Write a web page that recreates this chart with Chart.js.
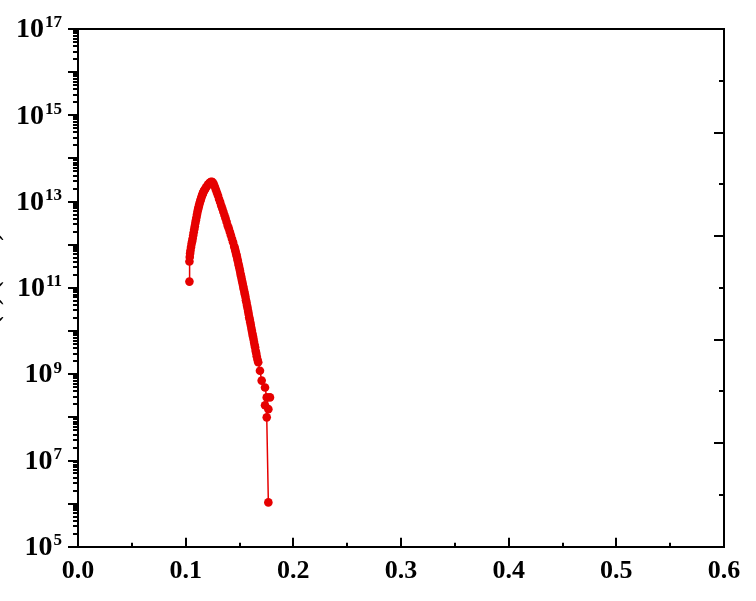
<!DOCTYPE html>
<html>
<head>
<meta charset="utf-8">
<script src="https://cdn.jsdelivr.net/npm/chart.js@4.4.1/dist/chart.umd.min.js"></script>
<style>
  html, body { margin: 0; padding: 0; background: #fff; }
  #wrap { width: 756px; height: 601px; position: relative; }
</style>
</head>
<body>
<div id="wrap"><canvas id="chart" width="756" height="601"></canvas></div>
<script>
// Data
const xValues = [
  0.1035, 0.1035, 0.1038, 0.1041, 0.1045, 0.1050, 0.1055, 0.1060, 0.1065, 0.1070,
  0.1075, 0.1080, 0.1085, 0.1090, 0.1095, 0.1100, 0.1105, 0.1110, 0.1115, 0.1120,
  0.1125, 0.1130, 0.1135, 0.1140, 0.1145, 0.1150, 0.1155, 0.1160, 0.1165, 0.1170,
  0.1175, 0.1180, 0.1190, 0.1200, 0.1210, 0.1220, 0.1230, 0.1240,
  0.1250, 0.1260, 0.1270, 0.1280, 0.1290, 0.1300, 0.1310, 0.1320, 0.1330, 0.1340,
  0.1350, 0.1360, 0.1370, 0.1380, 0.1390, 0.1400, 0.1410, 0.1420, 0.1430, 0.1440,
  0.1450, 0.1455, 0.1460, 0.1465, 0.1470, 0.1475, 0.1480, 0.1485, 0.1490, 0.1495,
  0.1500, 0.1505, 0.1510, 0.1515, 0.1520, 0.1525, 0.1530, 0.1535, 0.1540, 0.1545,
  0.1550, 0.1555, 0.1560, 0.1565, 0.1570, 0.1575, 0.1580, 0.1585, 0.1590, 0.1595,
  0.1600, 0.1605, 0.1610, 0.1615, 0.1620, 0.1625, 0.1630, 0.1635, 0.1640, 0.1645,
  0.1650, 0.1655, 0.1660, 0.1667, 0.1674, 0.1690, 0.1706, 0.1737, 0.1753, 0.1783,
  0.1737, 0.1768, 0.1753, 0.1768
];
const yValues = [
  1.4e11, 4.1e11, 5.2e11, 6.3e11, 7.4e11, 8.9e11, 1.05e12, 1.2e12, 1.4e12, 1.66e12,
  1.95e12, 2.3e12, 2.7e12, 3.2e12, 3.7e12, 4.3e12, 5.0e12, 5.8e12, 6.6e12, 7.4e12,
  8.3e12, 9.3e12, 1.02e13, 1.12e13, 1.23e13, 1.35e13, 1.45e13, 1.55e13, 1.66e13, 1.78e13,
  1.86e13, 1.95e13, 2.14e13, 2.34e13, 2.51e13, 2.69e13, 2.82e13, 2.88e13,
  2.82e13, 2.57e13, 2.24e13, 1.91e13, 1.62e13, 1.38e13, 1.15e13, 9.8e12, 8.1e12, 6.9e12,
  5.8e12, 4.9e12, 4.1e12, 3.4e12, 2.8e12, 2.4e12, 2.0e12, 1.66e12, 1.38e12, 1.15e12,
  9.3e11, 8.5e11, 7.6e11, 6.8e11, 6.0e11, 5.4e11, 4.7e11, 4.2e11, 3.6e11, 3.2e11,
  2.8e11, 2.45e11, 2.1e11, 1.86e11, 1.6e11, 1.41e11, 1.23e11, 1.07e11, 9.3e10, 8.1e10,
  7.1e10, 6.2e10, 5.2e10, 4.6e10, 3.9e10, 3.4e10, 2.9e10, 2.5e10, 2.1e10, 1.86e10,
  1.6e10, 1.38e10, 1.17e10, 1.02e10, 8.7e9, 7.6e9, 6.5e9, 5.6e9, 4.8e9, 4.2e9,
  3.5e9, 3.1e9, 2.6e9, 2.2e9, 1.9e9, 1.2e9, 7.1e8, 4.9e8, 2.9e8, 2.9e8,
  1.9e8, 1.55e8, 1.0e8, 1.07e6
];
const xTicks = [0.0, 0.1, 0.2, 0.3, 0.4, 0.5, 0.6];
const yLabelExps = [5, 7, 9, 11, 13, 15, 17];
const yTitle = 'N(ε) (a.u.)';

const RED = 'rgb(230, 0, 0)';
const SERIF = '"Liberation Serif", "Times New Roman", serif';

// ticks, tick labels with superscripts and frame drawn from the scales
const axisDecor = {
  id: 'axisDecor',
  afterDraw(chart) {
    const ctx = chart.ctx;
    const area = chart.chartArea;
    const x = chart.scales.x;
    const y = chart.scales.y;
    const y2 = chart.scales.y2;
    ctx.save();
    ctx.strokeStyle = '#000';
    ctx.lineWidth = 2;

    // top and right frame
    ctx.beginPath();
    ctx.moveTo(area.left - 1, area.top);
    ctx.lineTo(area.right, area.top);
    ctx.lineTo(area.right, area.bottom + 1);
    ctx.stroke();

    // left log ticks (outward)
    for (let e = 5; e <= 17; e++) {
      for (let m = 1; m <= 9; m++) {
        const v = m * Math.pow(10, e);
        if (v > 1e17) break;
        const py = Math.round(y.getPixelForValue(v));
        const len = m === 1 ? 10 : 5;
        ctx.beginPath();
        ctx.moveTo(area.left - len, py);
        ctx.lineTo(area.left, py);
        ctx.stroke();
      }
    }

    // bottom ticks (inward)
    for (let i = 0; i <= 12; i++) {
      const v = i * 0.05;
      const px = Math.round(x.getPixelForValue(v));
      const len = i % 2 === 0 ? 9 : 4;
      ctx.beginPath();
      ctx.moveTo(px, area.bottom);
      ctx.lineTo(px, area.bottom - len);
      ctx.stroke();
    }

    // right ticks (inward), from the hidden linear axis
    for (let i = 1; i <= 9; i++) {
      const py = Math.round(y2.getPixelForValue(i));
      const len = i % 2 === 0 ? 10 : 5;
      ctx.beginPath();
      ctx.moveTo(area.right - len, py);
      ctx.lineTo(area.right, py);
      ctx.stroke();
    }

    // y tick labels 10^n
    ctx.fillStyle = '#000';
    const labelRight = area.left - 16;
    yLabelExps.forEach(e => {
      const py = y.getPixelForValue(Math.pow(10, e));
      const ex = String(e);
      ctx.font = 'bold 17px ' + SERIF;
      ctx.textAlign = 'right';
      ctx.textBaseline = 'middle';
      const exW = ctx.measureText(ex).width;
      ctx.fillText(ex, labelRight, py - 6);
      ctx.font = 'bold 28px ' + SERIF;
      ctx.fillText('10', labelRight - exW - 1, py + 1);
    });

    // y title, mostly off the left edge
    ctx.save();
    ctx.translate(-9, (area.top + area.bottom) / 2);
    ctx.rotate(-Math.PI / 2);
    ctx.font = 'bold 26px ' + SERIF;
    ctx.textAlign = 'center';
    ctx.textBaseline = 'middle';
    ctx.fillText(yTitle, 0, 0);
    ctx.restore();

    ctx.restore();
  }
};

new Chart(document.getElementById('chart'), {
  type: 'line',
  data: {
    datasets: [{
      data: xValues.map((v, i) => ({ x: v, y: yValues[i] })),
      borderColor: RED,
      backgroundColor: RED,
      borderWidth: 1.5,
      pointRadius: 4.3,
      pointHoverRadius: 4.3,
      pointBorderWidth: 0,
      pointBackgroundColor: RED,
      tension: 0,
      yAxisID: 'y'
    }]
  },
  options: {
    responsive: false,
    animation: false,
    events: [],
    layout: { padding: { left: 78, top: 29, right: 32, bottom: 5 } },
    plugins: {
      legend: { display: false },
      tooltip: { enabled: false }
    },
    scales: {
      x: {
        type: 'linear',
        min: 0,
        max: 0.6,
        afterBuildTicks: scale => {
          scale.ticks = xTicks.map(v => ({ value: v }));
        },
        grid: { display: false, drawTicks: false },
        border: { display: true, color: '#000', width: 2 },
        ticks: {
          padding: 9,
          color: '#000',
          font: { family: SERIF, size: 26, weight: 'bold' },
          callback: v => Number(v).toFixed(1)
        }
      },
      y: {
        type: 'logarithmic',
        position: 'left',
        min: 1e5,
        max: 1e17,
        grid: { display: false, drawTicks: false },
        border: { display: true, color: '#000', width: 2 },
        ticks: { display: false }
      },
      y2: {
        type: 'linear',
        position: 'right',
        display: false,
        min: 0,
        max: 10
      }
    }
  },
  plugins: [axisDecor]
});
</script>
</body>
</html>
